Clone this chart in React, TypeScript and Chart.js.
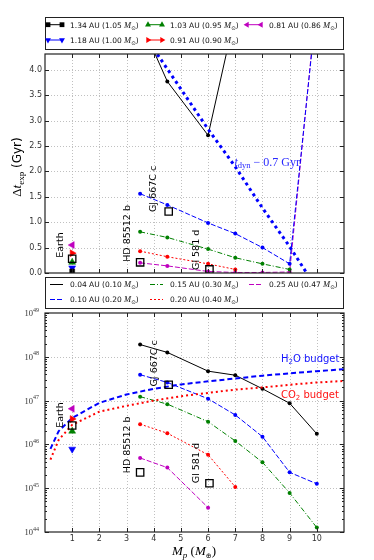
import React, { useEffect, useRef } from "react";
import { Chart, registerables } from "chart.js";
Chart.register(...registerables);

// ---------------- data ----------------
const PLANET_MASSES = [3.5, 4.5, 6, 7, 8, 9, 10];
const X_TICKS = [1, 2, 3, 4, 5, 6, 7, 8, 9, 10];
const DT_TICKS = [0, 0.5, 1, 1.5, 2, 2.5, 3, 3.5, 4];
const N_TICKS = [1e44, 1e45, 1e46, 1e47, 1e48, 1e49];
const N_TICK_EXP = ["44", "45", "46", "47", "48", "49"];

const MDWARF_LABELS = ["0.04 AU (0.10 ", "0.10 AU (0.20 ", "0.15 AU (0.30 ", "0.20 AU (0.40 ", "0.25 AU (0.47 "];
const DT_004 = [4.97, 3.77, 2.71, 5.1];
const DT_010 = [1.56, 1.34, 0.985, 0.775, 0.5, 0.18, 5.3];
const DT_015 = [0.81, 0.7, 0.47, 0.3, 0.18, 0.07];
const DT_020 = [0.43, 0.32, 0.18, 0.07];
const DT_025 = [0.2, 0.14, 0.03, 0.01, 0.01, 0.02, 5.4];

const N_004 = [1.9e48, 1.26e48, 4.7e47, 3.8e47, 1.86e47, 8.7e46, 1.74e46];
const N_010 = [3.9e47, 2.6e47, 1.1e47, 4.7e46, 1.5e46, 2.3e45, 1.26e45];
const N_015 = [1.23e47, 8.3e46, 3.3e46, 1.2e46, 3.9e45, 7.8e44, 1.26e44];
const N_020 = [2.9e46, 1.8e46, 5.8e45, 1.07e45];
const N_025 = [4.9e45, 2.95e45, 3.6e44];

const SUN_LABELS = ["1.34 AU (1.05 ", "1.18 AU (1.00 ", "1.03 AU (0.95 ", "0.91 AU (0.90 ", "0.81 AU (0.86 "];
const EARTH_MASS = 1;
const EARTH_DT = [0.03, 0.1, 0.21, 0.39, 0.55];
const EARTH_N: (number | null)[] = [null, 7.8e45, 2.0e46, 3.8e46, 6.5e46];

const PLANET_NAMES = ["Earth", "HD 85512 b", "GJ 667C c", "Gl 581 d"];
const PLANET_M = [1, 3.5, 4.55, 6.05];
const PLANET_DT = [0.28, 0.21, 1.21, 0.07];
const PLANET_N = [2.7e46, 2.3e45, 2.3e47, 1.3e45];

const TDYN_M = [4, 5, 6, 7, 8, 9, 10];
const TDYN_DT = [4.41, 3.62, 2.83, 2.09, 1.28, 0.52, -0.31];

const BUDGET_M = [0.2, 0.5, 1, 2, 3, 4, 5, 6, 7, 8, 9, 10, 11];
const H2O_N = [7.9e45, 2.0e46, 4.0e46, 8.9e46, 1.38e47, 1.86e47, 2.34e47, 2.75e47, 3.2e47, 3.7e47, 4.2e47, 4.7e47, 5.2e47];
const CO2_N = [4.5e45, 1.26e46, 2.8e46, 5.6e46, 7.6e46, 1.0e47, 1.26e47, 1.5e47, 1.78e47, 2.0e47, 2.3e47, 2.6e47, 2.8e47];

// annotation anchors (data coordinates)
const LABEL_X_TOP = [0.56, 3.05, 4.0, 5.58];
const LABEL_DT = [0.3, 0.22, 1.2, 0.06];
const LABEL_X_BOT = [0.56, 3.05, 4.04, 5.58];
const LABEL_N = [2.4e46, 2.2e45, 2.1e47, 1.3e45];
const TDYN_LABEL = { x: 6.97, y: 2.11 };
const H2O_LABEL = { x: 8.68, y: 7.5e47 };
const CO2_LABEL = { x: 8.68, y: 1.15e47 };

// ---------------- styles ----------------
const COLORS = ["#000000", "#0000ff", "#008000", "#ff0000", "#bf00bf"];
const MDWARF_DASH = [[], [5, 2], [5, 2, 1, 2], [2, 2], [5, 2]];
const SUN_MARKERS = [
  { style: "rect", rot: 0 },
  { style: "triangle", rot: 180 },
  { style: "triangle", rot: 0 },
  { style: "triangle", rot: 90 },
  { style: "triangle", rot: -90 },
];

const SANS = '"DejaVu Sans"';
const SERIF = '"Liberation Serif"';
const fs = (s: number) => `${s}px ${SANS}`;
const fr = (s: number, it = false) => `${it ? "italic " : ""}${s}px ${SERIF}`;

type Part = { t: string; f: string; dy?: number };
function richWidth(ctx: CanvasRenderingContext2D, parts: Part[]) {
  let w = 0;
  for (const p of parts) {
    ctx.font = p.f;
    w += ctx.measureText(p.t).width;
  }
  return w;
}
function drawRich(ctx: CanvasRenderingContext2D, parts: Part[], x: number, y: number) {
  let cx = x;
  ctx.textAlign = "left";
  ctx.textBaseline = "alphabetic";
  for (const p of parts) {
    ctx.font = p.f;
    ctx.fillText(p.t, cx, y + (p.dy || 0));
    cx += ctx.measureText(p.t).width;
  }
}

function drawMarker(ctx: CanvasRenderingContext2D, style: string, rot: number, x: number, y: number, r: number, color: string) {
  ctx.save();
  ctx.translate(x, y);
  ctx.rotate((rot * Math.PI) / 180);
  ctx.fillStyle = color;
  ctx.beginPath();
  if (style === "rect") ctx.rect(-r * 0.75, -r * 0.75, r * 1.5, r * 1.5);
  else {
    ctx.moveTo(0, -r);
    ctx.lineTo(r * 0.866, r * 0.5);
    ctx.lineTo(-r * 0.866, r * 0.5);
    ctx.closePath();
  }
  ctx.fill();
  ctx.restore();
}

function legendText(prefix: string, sym: string): Part[] {
  return [
    { t: prefix, f: fs(7.5) },
    { t: "M", f: fr(8.5, true) },
    { t: sym, f: fs(5.5), dy: 2 },
    { t: ")", f: fs(7.5) },
  ];
}

const LEG_MARK_X = [3, 103, 202];
const LEG_TEXT_X = [25, 125, 224];

function drawLegendBox(ctx: CanvasRenderingContext2D, left: number, right: number, top: number, bottom: number) {
  ctx.save();
  ctx.fillStyle = "#fff";
  ctx.fillRect(left, top, right - left, bottom - top);
  ctx.strokeStyle = "#222";
  ctx.lineWidth = 1;
  ctx.strokeRect(Math.round(left) + 0.5, top + 0.5, Math.round(right - left) - 1, bottom - top - 1);
  ctx.restore();
}

function drawFrameAndTicks(chart: any, yMajor: number[], yMinor: number[]) {
  const { ctx, chartArea: a, scales } = chart;
  const xs = scales.x, ys = scales.y;
  ctx.save();
  ctx.strokeStyle = "#222";
  ctx.lineWidth = 1;
  ctx.setLineDash([]);
  ctx.beginPath();
  for (const v of X_TICKS) {
    const px = Math.round(xs.getPixelForValue(v)) + 0.5;
    ctx.moveTo(px, a.bottom); ctx.lineTo(px, a.bottom - 4);
    ctx.moveTo(px, a.top); ctx.lineTo(px, a.top + 4);
  }
  for (const v of yMajor) {
    const py = Math.round(ys.getPixelForValue(v)) + 0.5;
    ctx.moveTo(a.left, py); ctx.lineTo(a.left + 4, py);
    ctx.moveTo(a.right, py); ctx.lineTo(a.right - 4, py);
  }
  for (const v of yMinor) {
    const py = Math.round(ys.getPixelForValue(v)) + 0.5;
    ctx.moveTo(a.left, py); ctx.lineTo(a.left + 2, py);
    ctx.moveTo(a.right, py); ctx.lineTo(a.right - 2, py);
  }
  ctx.stroke();
  ctx.lineWidth = 1.2;
  ctx.strokeRect(a.left, a.top, a.right - a.left, a.bottom - a.top);
  ctx.restore();
}

function drawGrid(chart: any, yGrid: number[]) {
  const { ctx, chartArea: a, scales } = chart;
  ctx.save();
  ctx.strokeStyle = "#b0b0b0";
  ctx.lineWidth = 0.8;
  ctx.setLineDash([1, 2]);
  ctx.beginPath();
  for (const v of X_TICKS) {
    const px = Math.round(scales.x.getPixelForValue(v)) + 0.5;
    ctx.moveTo(px, a.top); ctx.lineTo(px, a.bottom);
  }
  for (const v of yGrid) {
    const py = Math.round(scales.y.getPixelForValue(v)) + 0.5;
    if (py <= a.top + 1 || py >= a.bottom - 1) continue;
    ctx.moveTo(a.left, py); ctx.lineTo(a.right, py);
  }
  ctx.stroke();
  ctx.restore();
}

function drawVerticalLabel(ctx: CanvasRenderingContext2D, text: string, x: number, y: number) {
  ctx.save();
  ctx.translate(x, y);
  ctx.rotate(-Math.PI / 2);
  ctx.fillStyle = "#000";
  ctx.font = fs(9.5);
  ctx.textAlign = "left";
  ctx.textBaseline = "middle";
  ctx.fillText(text, 0, 0);
  ctx.restore();
}

const pts = (xs: number[], ys: (number | null)[]) =>
  ys.map((y, i) => ({ x: xs[i], y })).filter((p) => p.y !== null);

const topPlugin = {
  id: "topDecor",
  beforeDatasetsDraw(chart: any) {
    drawGrid(chart, DT_TICKS);
  },
  afterDraw(chart: any) {
    const { ctx, chartArea: a, scales } = chart;
    const xs = scales.x, ys = scales.y;
    drawFrameAndTicks(chart, DT_TICKS, []);
    // planet labels
    PLANET_NAMES.forEach((n, i) => {
      drawVerticalLabel(ctx, n, xs.getPixelForValue(LABEL_X_TOP[i]), ys.getPixelForValue(LABEL_DT[i]));
    });
    // t_dyn label
    ctx.save();
    ctx.fillStyle = "#2a2aff";
    drawRich(
      ctx,
      [
        { t: "t", f: fr(12, true) },
        { t: "dyn", f: fr(8.5), dy: 2.5 },
        { t: " \u2212 0.7 Gyr", f: fr(12) },
      ],
      xs.getPixelForValue(TDYN_LABEL.x),
      ys.getPixelForValue(TDYN_LABEL.y)
    );
    ctx.restore();
    // y title
    ctx.save();
    ctx.fillStyle = "#000";
    const tparts: Part[] = [
      { t: "\u0394", f: fr(13) },
      { t: "t", f: fr(13, true) },
      { t: "exp", f: fr(9), dy: 3 },
      { t: " (Gyr)", f: fs(12) },
    ];
    ctx.translate(21, 167);
    ctx.rotate(-Math.PI / 2);
    drawRich(ctx, tparts, -richWidth(ctx, tparts) / 2, 0);
    ctx.restore();
    // legend 1 (sun-like stars)
    drawLegendBox(ctx, a.left, a.right, 17, 50);
    SUN_LABELS.forEach((lab, k) => {
      const col = Math.floor(k / 2), row = k % 2;
      const y = 17 + 7.7 + row * 15.3;
      const x0 = a.left + LEG_MARK_X[col];
      ctx.save();
      ctx.strokeStyle = COLORS[k];
      ctx.lineWidth = 1;
      ctx.beginPath();
      ctx.moveTo(x0, y); ctx.lineTo(x0 + 14, y);
      ctx.stroke();
      const m = SUN_MARKERS[k];
      const r = m.style === "rect" ? 3.2 : 3.4;
      drawMarker(ctx, m.style, m.rot, x0, y, r, COLORS[k]);
      drawMarker(ctx, m.style, m.rot, x0 + 14, y, r, COLORS[k]);
      ctx.fillStyle = "#111";
      drawRich(ctx, legendText(lab, "\u2299"), a.left + LEG_TEXT_X[col], y + 2.8);
      ctx.restore();
    });
    // legend 2 (M dwarfs)
    drawLegendBox(ctx, a.left, a.right, 277, 309);
    MDWARF_LABELS.forEach((lab, k) => {
      const col = Math.floor(k / 2), row = k % 2;
      const y = 277 + 7.5 + row * 15;
      const x0 = a.left + LEG_MARK_X[col] + 2;
      ctx.save();
      ctx.strokeStyle = COLORS[k];
      ctx.lineWidth = 1;
      ctx.setLineDash(MDWARF_DASH[k]);
      ctx.beginPath();
      ctx.moveTo(x0, y); ctx.lineTo(x0 + 13, y);
      ctx.stroke();
      ctx.setLineDash([]);
      ctx.fillStyle = "#111";
      drawRich(ctx, legendText(lab, "\u2299"), a.left + LEG_TEXT_X[col], y + 2.8);
      ctx.restore();
    });
  },
};

const N_MINOR: number[] = [];
for (let d = 0; d < N_TICKS.length - 1; d++) for (let k = 2; k <= 9; k++) N_MINOR.push(N_TICKS[d] * k);

const botPlugin = {
  id: "botDecor",
  beforeDatasetsDraw(chart: any) {
    drawGrid(chart, N_TICKS);
  },
  afterDraw(chart: any) {
    const { ctx, chartArea: a, scales } = chart;
    const xs = scales.x, ys = scales.y;
    drawFrameAndTicks(chart, N_TICKS, N_MINOR);
    // log tick labels
    ctx.save();
    ctx.fillStyle = "#333";
    N_TICKS.forEach((v, i) => {
      const py = ys.getPixelForValue(v);
      const base: Part[] = [{ t: "10", f: fr(8.5) }];
      const sup: Part[] = [{ t: N_TICK_EXP[i], f: fr(6) }];
      const wb = richWidth(ctx, base), ws = richWidth(ctx, sup);
      const xe = a.left - 6;
      drawRich(ctx, base, xe - ws - wb, py + 3);
      drawRich(ctx, sup, xe - ws, py - 1.5);
    });
    ctx.restore();
    // planet labels
    PLANET_NAMES.forEach((n, i) => {
      drawVerticalLabel(ctx, n, xs.getPixelForValue(LABEL_X_BOT[i]), ys.getPixelForValue(LABEL_N[i]));
    });
    // budget labels
    ctx.save();
    ctx.fillStyle = "#1515ff";
    drawRich(ctx, [{ t: "H", f: fs(10) }, { t: "2", f: fs(7), dy: 2 }, { t: "O budget", f: fs(10) }],
      xs.getPixelForValue(H2O_LABEL.x), ys.getPixelForValue(H2O_LABEL.y));
    ctx.fillStyle = "#ff1515";
    drawRich(ctx, [{ t: "CO", f: fs(10) }, { t: "2", f: fs(7), dy: 2 }, { t: " budget", f: fs(10) }],
      xs.getPixelForValue(CO2_LABEL.x), ys.getPixelForValue(CO2_LABEL.y));
    ctx.restore();
    // y title
    ctx.save();
    ctx.fillStyle = "#000";
    const nparts: Part[] = [
      { t: "N", f: fr(13, true) },
      { t: "exp", f: fr(9, true), dy: 3 },
    ];
    ctx.translate(14, 421);
    ctx.rotate(-Math.PI / 2);
    drawRich(ctx, nparts, -richWidth(ctx, nparts) / 2, 0);
    ctx.restore();
    // x title
    ctx.save();
    ctx.fillStyle = "#000";
    const xparts: Part[] = [
      { t: "M", f: fr(13, true) },
      { t: "p", f: fr(9, true), dy: 3 },
      { t: " (", f: fr(13) },
      { t: "M", f: fr(13, true) },
      { t: "\u2295", f: fs(7), dy: 3 },
      { t: ")", f: fr(13) },
    ];
    const cx = (a.left + a.right) / 2;
    drawRich(ctx, xparts, 194 - richWidth(ctx, xparts) / 2 + (cx - cx), 255);
    ctx.restore();
  },
};

function seriesDatasets(vals: (number | null)[][]) {
  return vals.map((v, i) => ({
    data: pts(PLANET_MASSES, v),
    showLine: true,
    borderColor: COLORS[i],
    backgroundColor: COLORS[i],
    borderWidth: 1,
    borderDash: MDWARF_DASH[i],
    pointRadius: 2,
    pointBorderWidth: 0,
    pointBackgroundColor: COLORS[i],
    order: 5,
  }));
}

function earthDatasets(vals: (number | null)[]) {
  return vals
    .map((v, i) => ({
      data: v === null ? [] : [{ x: EARTH_MASS, y: v }],
      showLine: false,
      pointStyle: SUN_MARKERS[i].style,
      pointRotation: SUN_MARKERS[i].rot,
      pointRadius: SUN_MARKERS[i].style === "rect" ? 3.5 : 4,
      pointBackgroundColor: COLORS[i],
      pointBorderColor: COLORS[i],
      pointBorderWidth: 0.5,
      order: 2,
    }));
}

function planetDataset(vals: number[]) {
  return {
    data: pts(PLANET_M, vals),
    showLine: false,
    pointStyle: "rect",
    pointRadius: 5.2,
    pointBackgroundColor: "rgba(0,0,0,0)",
    pointBorderColor: "#000",
    pointBorderWidth: 1.3,
    order: 1,
  };
}

const commonX = {
  type: "linear",
  min: 0,
  max: 11,
  grid: { display: false, drawTicks: false },
  border: { display: false },
};

function topConfig(): any {
  return {
    type: "scatter",
    data: {
      datasets: [
        ...seriesDatasets([DT_004, DT_010, DT_015, DT_020, DT_025]),
        {
          data: pts(TDYN_M, TDYN_DT),
          showLine: true,
          borderColor: "#0000ff",
          borderWidth: 3,
          borderDash: [3, 3.5],
          pointRadius: 0,
          order: 3,
        },
        ...earthDatasets(EARTH_DT),
        planetDataset(PLANET_DT),
      ],
    },
    options: {
      animation: false,
      responsive: false,
      devicePixelRatio: 1,
      layout: { padding: { top: 54, right: 30, bottom: 39, left: 0 } },
      plugins: { legend: { display: false }, tooltip: { enabled: false } },
      scales: {
        x: {
          ...commonX,
          ticks: { display: false },
          afterFit: (s: any) => { s.height = 0; },
        },
        y: {
          type: "linear",
          min: 0,
          max: 4.31,
          grid: { display: false, drawTicks: false },
          border: { display: false },
          afterBuildTicks: (s: any) => { s.ticks = DT_TICKS.map((v) => ({ value: v })); },
          ticks: {
            padding: 3,
            color: "#333",
            font: { family: "DejaVu Sans", size: 8 },
            callback: (v: any) => Number(v).toFixed(1),
          },
          afterFit: (s: any) => { s.width = 45; },
        },
      },
    },
    plugins: [topPlugin],
  };
}

function bottomConfig(): any {
  return {
    type: "scatter",
    data: {
      datasets: [
        ...seriesDatasets([N_004, N_010, N_015, N_020, N_025]),
        {
          data: pts(BUDGET_M, H2O_N),
          showLine: true,
          borderColor: "#0000ff",
          borderWidth: 2,
          borderDash: [5, 3],
          pointRadius: 0,
          order: 4,
        },
        {
          data: pts(BUDGET_M, CO2_N),
          showLine: true,
          borderColor: "#ff0000",
          borderWidth: 2,
          borderDash: [2, 3],
          pointRadius: 0,
          order: 4,
        },
        ...earthDatasets(EARTH_N),
        planetDataset(PLANET_N),
      ],
    },
    options: {
      animation: false,
      responsive: false,
      devicePixelRatio: 1,
      layout: { padding: { top: 13, right: 30, bottom: 0, left: 0 } },
      plugins: { legend: { display: false }, tooltip: { enabled: false } },
      scales: {
        x: {
          ...commonX,
          afterBuildTicks: (s: any) => { s.ticks = X_TICKS.map((v) => ({ value: v })); },
          ticks: {
            padding: 2,
            color: "#333",
            maxRotation: 0,
            autoSkip: false,
            font: { family: "DejaVu Sans", size: 8 },
            callback: (v: any) => String(v),
          },
          afterFit: (s: any) => { s.height = 28; },
        },
        y: {
          type: "logarithmic",
          min: 1e44,
          max: 1e49,
          grid: { display: false, drawTicks: false },
          border: { display: false },
          ticks: { display: false },
          afterFit: (s: any) => { s.width = 45; },
        },
      },
    },
    plugins: [botPlugin],
  };
}

export default function App() {
  const topRef = useRef<HTMLCanvasElement>(null);
  const botRef = useRef<HTMLCanvasElement>(null);
  useEffect(() => {
    const c1 = new Chart(topRef.current as HTMLCanvasElement, topConfig());
    const c2 = new Chart(botRef.current as HTMLCanvasElement, bottomConfig());
    return () => {
      c1.destroy();
      c2.destroy();
    };
  }, []);
  return (
    <div style={{ position: "absolute", left: 0, top: 0, width: 374, height: 560, background: "#fff" }}>
      <canvas ref={topRef} width={374} height={312} style={{ position: "absolute", left: 0, top: 0 }} />
      <canvas ref={botRef} width={374} height={260} style={{ position: "absolute", left: 0, top: 300 }} />
    </div>
  );
}
